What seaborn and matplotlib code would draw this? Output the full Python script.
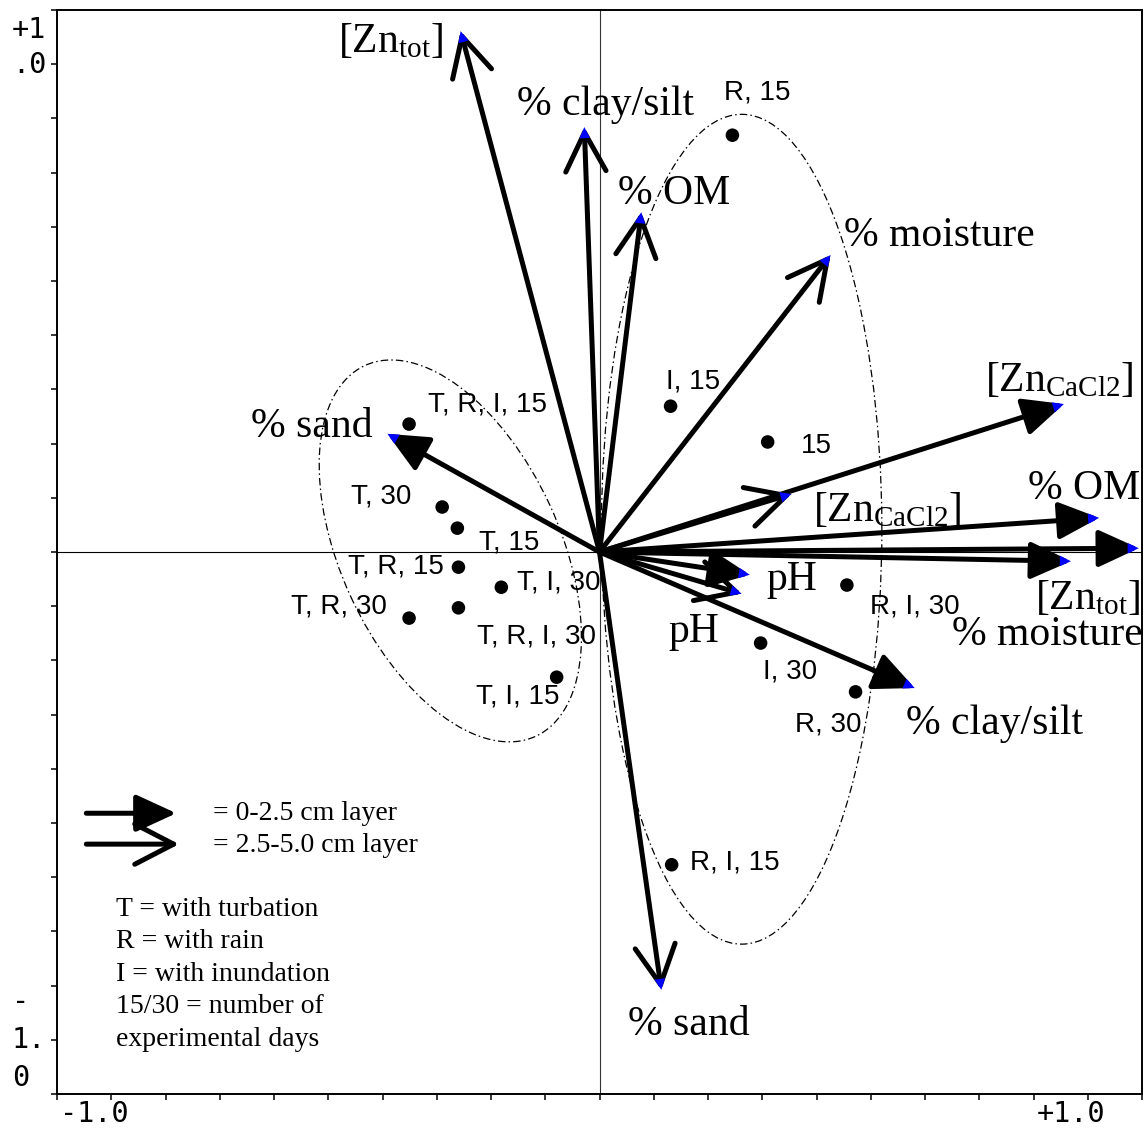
import numpy as np
import pandas as pd
import matplotlib
matplotlib.use("Agg")
import matplotlib.pyplot as plt
import seaborn as sns
from matplotlib.patches import Ellipse

# ---------------- data ----------------
variables = ["[Zn$_{\\mathrm{tot}}$]", "% clay/silt", "% OM", "% moisture",
             "[Zn$_{\\mathrm{CaCl2}}$]", "pH", "% sand"]
# 0-2.5 cm layer (filled heads)
layer1_x = [0.869, 0.581, 0.921, 0.994, 0.856, 0.277, -0.391]
layer1_y = [-0.017, -0.251, 0.063, 0.007, 0.273, -0.042, 0.218]
# 2.5-5.0 cm layer (open heads)
layer2_x = [-0.256, -0.028, 0.077, 0.426, 0.354, 0.262, 0.114]
layer2_y = [0.961, 0.784, 0.627, 0.548, 0.107, -0.077, -0.808]

# label anchor positions for the variables
layer1_lab_x = [0.900, 0.729, 0.893, 0.825, 0.847, 0.354, -0.530]
layer1_lab_y = [-0.085, -0.317, 0.116, -0.153, 0.317, -0.052, 0.231]
layer2_lab_x = [-0.386, 0.011, 0.137, 0.627, 0.531, 0.173, 0.164]
layer2_lab_y = [0.941, 0.825, 0.661, 0.583, 0.077, -0.148, -0.873]

sample_names = ["R, 15", "I, 15", "15", "T, R, I, 15", "T, 30", "T, 15",
                "T, R, 15", "T, I, 30", "T, R, 30", "T, R, I, 30", "T, I, 15",
                "R, I, 30", "I, 30", "R, 30", "R, I, 15"]
sample_x = [0.245, 0.131, 0.310, -0.351, -0.290, -0.262, -0.260, -0.181,
            -0.351, -0.260, -0.079, 0.456, 0.297, 0.472, 0.133]
sample_y = [0.769, 0.269, 0.203, 0.236, 0.083, 0.044, -0.028, -0.065,
            -0.122, -0.103, -0.231, -0.061, -0.168, -0.258, -0.577]
sample_lab_x = [0.290, 0.172, 0.400, -0.207, -0.402, -0.166, -0.375, -0.076,
                -0.480, -0.116, -0.151, 0.581, 0.352, 0.421, 0.249]
sample_lab_y = [0.847, 0.314, 0.196, 0.273, 0.103, 0.017, -0.026, -0.057,
                -0.101, -0.155, -0.266, -0.101, -0.221, -0.319, -0.572]

# group ellipses: centre x, centre y, width, height, angle
ell_cx = [-0.275, 0.262]
ell_cy = [0.002, 0.042]
ell_w = [0.753, 1.531]
ell_h = [0.404, 0.517]
ell_ang = [-65.3, 90.0]

legend_lines = ["T = with turbation", "R = with rain", "I = with inundation",
                "15/30 = number of", "experimental days"]

# ---------------- style ----------------
sns.set_theme(style="white")
plt.rcParams["font.family"] = ["Liberation Serif", "DejaVu Serif"]
plt.rcParams["text.color"] = "black"
plt.rcParams["mathtext.fontset"] = "custom"
plt.rcParams["mathtext.rm"] = "Liberation Serif"
plt.rcParams["mathtext.it"] = "Liberation Serif:italic"
plt.rcParams["mathtext.bf"] = "Liberation Serif:bold"

W, H = 1146, 1130
fig = plt.figure(figsize=(W / 100, H / 100), dpi=100)
ax = fig.add_axes([57 / W, 1 - 1094 / H, (1142 - 57) / W, (1094 - 10) / H])
ax.set_xlim(-1, 1)
ax.set_ylim(-1, 1)

for s in ax.spines.values():
    s.set_color("black")
    s.set_linewidth(1.4)
ticks = np.round(np.arange(-1, 1.0001, 0.1), 2)
ax.set_xticks(ticks)
ax.set_yticks(ticks)
ax.set_xticklabels([])
ax.set_yticklabels([])
ax.tick_params(direction="out", length=4, width=1.1, color="black",
               bottom=True, left=True)

ax.axhline(0, color="black", lw=0.8, zorder=1)
ax.axvline(0, color="#333333", lw=0.8, zorder=1)

# ellipses
for cx, cy, w, h, a in zip(ell_cx, ell_cy, ell_w, ell_h, ell_ang):
    ax.add_patch(Ellipse((cx, cy), w, h, angle=a, fill=False, color="black",
                         lw=0.9, ls=(0, (6, 2.5, 1.2, 2.5)), zorder=2))

# samples
df = pd.DataFrame({"x": sample_x, "y": sample_y, "name": sample_names})
sns.scatterplot(data=df, x="x", y="y", color="black", s=95, edgecolor="none",
                ax=ax, zorder=4, legend=False)
ax.set_xlabel("")
ax.set_ylabel("")
for n, lx, ly in zip(sample_names, sample_lab_x, sample_lab_y):
    ax.text(lx, ly, n, family="Liberation Sans", fontsize=20, color="black",
            ha="center", va="center", zorder=5)

filled_style = "-|>,head_length=25,head_width=11.5"
open_style = "->,head_length=28,head_width=14.5"


def arrow(x0, y0, x1, y1, style):
    ax.annotate("", xy=(x1, y1), xytext=(x0, y0),
                arrowprops=dict(arrowstyle=style, color="black", lw=3.6,
                                shrinkA=0, shrinkB=0, mutation_scale=1,
                                joinstyle="round", capstyle="round"),
                zorder=3)


def blue_tip(x1, y1):
    d = np.hypot(x1, y1)
    ux, uy = x1 / d, y1 / d
    ax.annotate("", xy=(x1, y1), xytext=(x1 - 0.02 * ux, y1 - 0.02 * uy),
                arrowprops=dict(arrowstyle="-|>,head_length=8,head_width=3.8",
                                color="blue", lw=0, shrinkA=0, shrinkB=0,
                                mutation_scale=1),
                zorder=6)


for x1, y1 in zip(layer2_x, layer2_y):
    arrow(0, 0, x1, y1, open_style)
for x1, y1 in zip(layer1_x, layer1_y):
    arrow(0, 0, x1, y1, filled_style)
for x1, y1 in zip(layer1_x + layer2_x, layer1_y + layer2_y):
    blue_tip(x1, y1)

for v, lx, ly in zip(variables, layer1_lab_x, layer1_lab_y):
    ax.text(lx, ly, v, fontsize=30, ha="center", va="center", zorder=5)
for v, lx, ly in zip(variables, layer2_lab_x, layer2_lab_y):
    ax.text(lx, ly, v, fontsize=30, ha="center", va="center", zorder=5)

# legend arrows
arrow(-0.946, -0.482, -0.780, -0.482, filled_style)
arrow(-0.946, -0.539, -0.775, -0.539, open_style)
ax.text(-0.712, -0.482, "= 0-2.5 cm layer", fontsize=20, ha="left", va="center")
ax.text(-0.712, -0.541, "= 2.5-5.0 cm layer", fontsize=20, ha="left", va="center")
for i, line in enumerate(legend_lines):
    ax.text(-0.891, -0.659 - i * 0.060, line, fontsize=20, ha="left", va="center")

# axis labels (monospace, wrapped as in original)
mono = dict(family="DejaVu Sans Mono", fontsize=20.5, va="baseline", ha="left",
            color="black")
fig.text(60 / W, 1 - 1122 / H, "-1.0", **mono)
fig.text(1037 / W, 1 - 1122 / H, "+1.0", **mono)
fig.text(12 / W, 1 - 38 / H, "+1", **mono)
fig.text(12 / W, 1 - 73 / H, ".0", **mono)
fig.text(12 / W, 1 - 1010 / H, "-", **mono)
fig.text(12 / W, 1 - 1048 / H, "1.", **mono)
fig.text(12 / W, 1 - 1086 / H, "0", **mono)

fig.savefig("out.png", dpi=100)
